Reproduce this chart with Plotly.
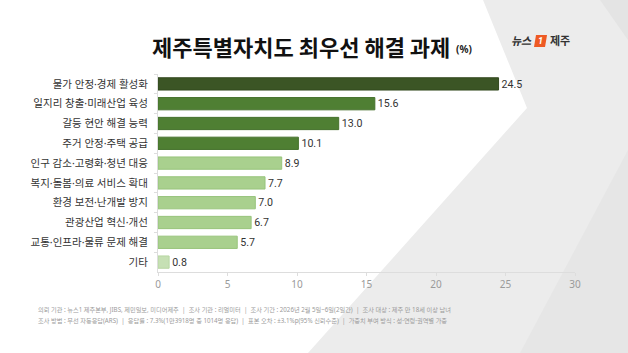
import plotly.graph_objects as go

categories = ["물가 안정·경제 활성화", "일지리 창출·미래산업 육성", "갈등 현안 해결 능력", "주거 안정·주택 공급",
              "인구 감소·고령화·청년 대응", "복지·돌봄·의료 서비스 확대", "환경 보전·난개발 방지",
              "관광산업 혁신·개선", "교통·인프라·물류 문제 해결", "기타"]
values = [24.5, 15.6, 13.0, 10.1, 8.9, 7.7, 7.0, 6.7, 5.7, 0.8]
bar_colors = ["#3b5525", "#4f7f33", "#4f7f33", "#4f7f33", "#a9d08e", "#a9d08e", "#a9d08e",
              "#a9d08e", "#a9d08e", "#c6e0b4"]
line_colors = ["#33491f", "#46722d", "#46722d", "#46722d", "#98c47c", "#98c47c", "#98c47c",
               "#98c47c", "#98c47c", "#b7d6a2"]
x_ticks = [0, 5, 10, 15, 20, 25, 30]

title = "제주특별자치도 최우선 해결 과제"
footer1 = "의뢰 기관 : 뉴스1 제주본부, JIBS, 제민일보, 미디어제주  |  조사 기관 : 리얼미터  |  조사 기간 : 2026년 2월 5일~6일(2일간)  |  조사 대상 : 제주 만 18세 이상 남녀"
footer2 = "조사 방법 : 무선 자동응답(ARS)  |  응답률 : 7.3%(1만3918명 중 1014명 응답)  |  표본 오차 : ±3.1%p(95% 신뢰수준)  |  가중치 부여 방식 : 성·연령·권역별 가중"

W, H = 628, 353
L, R, T, B = 158, 53, 74, 81
PW, PH = W - L - R, H - T - B
KR = "Noto Sans, Noto Sans CJK KR"

def px(x, y):
    return (x - L) / PW, (H - B - y) / PH

def poly(points):
    s = ""
    for i, (x, y) in enumerate(points):
        a, b = px(x, y)
        s += ("M" if i == 0 else "L") + f"{a:.4f},{b:.4f} "
    return s + "Z"

fig = go.Figure()
fig.add_trace(go.Bar(
    y=categories, x=values, orientation="h",
    marker=dict(color=bar_colors, line=dict(color=line_colors, width=1)),
    width=0.62,
    text=[f"{v:.1f}" for v in values], textposition="outside",
    textfont=dict(family="Roboto", size=13, color="#333333"),
    cliponaxis=False, hoverinfo="skip",
))

shapes = [
    dict(type="path", path=poly([(483, 0), (628, 0), (628, 353), (308, 353), (527, 108)]),
         xref="paper", yref="paper", fillcolor="#ececec", line=dict(width=0), layer="below"),
    dict(type="path", path=poly([(600, 0), (628, 0), (628, 40)]),
         xref="paper", yref="paper", fillcolor="#e4e4e4", line=dict(width=0), layer="below"),
    dict(type="path", path=poly([(628, 150), (628, 353), (520, 353)]),
         xref="paper", yref="paper", fillcolor="#e6e6e6", line=dict(width=0), layer="below"),
    dict(type="path", path=poly([(536, 35), (547, 35), (545, 47), (534, 47)]),
         xref="paper", yref="paper", fillcolor="#ee5a24", line=dict(width=0), layer="above"),
]

annotations = []
def ann(text, x, y, size, color, xanchor="left", family=KR, bold=False):
    a, b = px(x, y)
    annotations.append(dict(text=f"<b>{text}</b>" if bold else text, x=a, y=b, xref="paper", yref="paper",
                            xanchor=xanchor, yanchor="middle", showarrow=False,
                            font=dict(family=family, size=size, color=color)))

ann(title, 452, 46, 22, "#111111", xanchor="right", family="Noto Sans CJK KR", bold=True)
ann("(%)", 454, 49, 10, "#222222", bold=True)
ann("<i>뉴스</i>", 534, 41, 11, "#333333", xanchor="right", bold=True)
ann("<i>1</i>", 540.5, 41, 9, "#ffffff", xanchor="center", family="Roboto", bold=True)
ann("제주", 548, 41, 11, "#333333", bold=True)
ann(footer1, 36, 309, 6.2, "#9a9a9a")
ann(footer2, 36, 320, 6.2, "#9a9a9a")

fig.update_layout(
    width=W, height=H, margin=dict(l=L, r=R, t=T, b=B),
    paper_bgcolor="#ffffff", plot_bgcolor="rgba(0,0,0,0)",
    showlegend=False, bargap=0.38,
    shapes=shapes, annotations=annotations,
    xaxis=dict(range=[0, 30], tickvals=x_ticks, showgrid=False, zeroline=False,
               showline=True, linecolor="#dddddd", linewidth=1,
               ticks="outside", ticklen=3, tickcolor="#dddddd",
               tickfont=dict(family="Noto Sans", size=10, color="#9a9a9a"), fixedrange=True),
    yaxis=dict(autorange="reversed", showgrid=False, zeroline=False,
               showline=True, linecolor="#dddddd", linewidth=1,
               ticks="outside", ticklen=3, tickcolor="#dddddd", tickson="boundaries",
               ticklabelstandoff=7,
               tickfont=dict(family=KR, size=10.5, color="#333333"), fixedrange=True),
)

fig.write_html("out.html")
